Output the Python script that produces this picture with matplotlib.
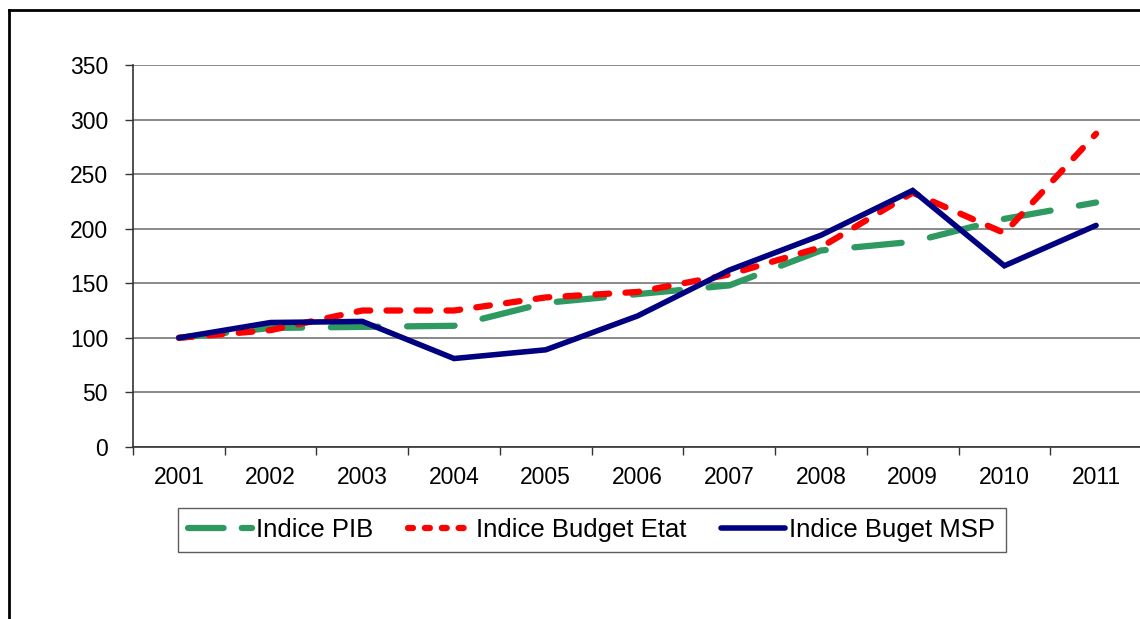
import matplotlib
matplotlib.use('Agg')
import matplotlib.pyplot as plt
from matplotlib.lines import Line2D

years = ['2001', '2002', '2003', '2004', '2005', '2006', '2007', '2008', '2009', '2010', '2011']
pib = [100, 109, 110, 111, 132, 140, 148, 180, 188, 209, 224]
budget_etat = [100, 107, 125, 125, 137, 142, 158, 183, 233, 196, 287]
budget_msp = [100, 114, 115, 81, 89, 120, 162, 194, 235, 166, 203]
yticks = [0, 50, 100, 150, 200, 250, 300, 350]
labels = ['Indice PIB', 'Indice Budget Etat', 'Indice Buget MSP']

plt.rcParams['font.family'] = ['Liberation Sans', 'DejaVu Sans']

fig = plt.figure(figsize=(11.4, 6.19), dpi=100)
ax = fig.add_axes([0.1167, 0.278, 0.885, 0.617])

green, red, navy = '#2e9960', '#ff0000', '#000080'
x = list(range(len(years)))
ax.plot(x, pib, color=green, lw=4.5, dashes=(7.6, 4.6), dash_capstyle='round')
ax.plot(x, budget_etat, color=red, lw=4.5, dashes=(2.2, 2.6), dash_capstyle='round')
ax.plot(x, budget_msp, color=navy, lw=4, solid_capstyle='round', solid_joinstyle='miter')

ax.set_xlim(-0.5, len(years) - 0.5)
ax.set_ylim(0, 350)
ax.set_yticks(yticks)
ax.yaxis.grid(True, color='#808080', lw=1.3)
ax.set_axisbelow(True)

ax.set_xticks(x)
ax.set_xticklabels(years, fontsize=16.5)
ax.set_xticks([i - 0.5 for i in range(len(years) + 1)], minor=True)
ax.tick_params(axis='x', which='major', length=0, pad=14)
ax.tick_params(axis='x', which='minor', length=6, width=1, direction='out', color='#333333')
ax.tick_params(axis='y', length=6, width=1, color='#333333', labelsize=16.5, pad=12)

for s in ['top', 'right']:
    ax.spines[s].set_visible(False)
for s in ['left', 'bottom']:
    ax.spines[s].set_color('#333333')
    ax.spines[s].set_linewidth(1.2)

# legend handles drawn with shorter dash patterns, as in the original
handles = [
    Line2D([], [], color=green, lw=4.5, dashes=(5.7, 2.9), dash_capstyle='round'),
    Line2D([], [], color=red, lw=4.5, dashes=(0.8, 1.9), dash_capstyle='round'),
    Line2D([], [], color=navy, lw=4, solid_capstyle='round'),
]
leg = ax.legend(handles, labels, loc='center', bbox_to_anchor=(0.519, 0.144),
                bbox_transform=fig.transFigure, ncol=3, fontsize=18.5, frameon=True,
                fancybox=False, edgecolor='#333333', handlelength=2.5, handletextpad=0.15,
                columnspacing=1.35, borderpad=0.4, borderaxespad=0)
leg.get_frame().set_linewidth(1.0)

# outer frame lines (left and top)
fig.add_artist(Line2D([0.0075, 0.0075], [0.0, 0.984], color='black', lw=2, transform=fig.transFigure))
fig.add_artist(Line2D([0.0075, 1.0], [0.984, 0.984], color='black', lw=2, transform=fig.transFigure))

fig.savefig('out.png', dpi=100)
